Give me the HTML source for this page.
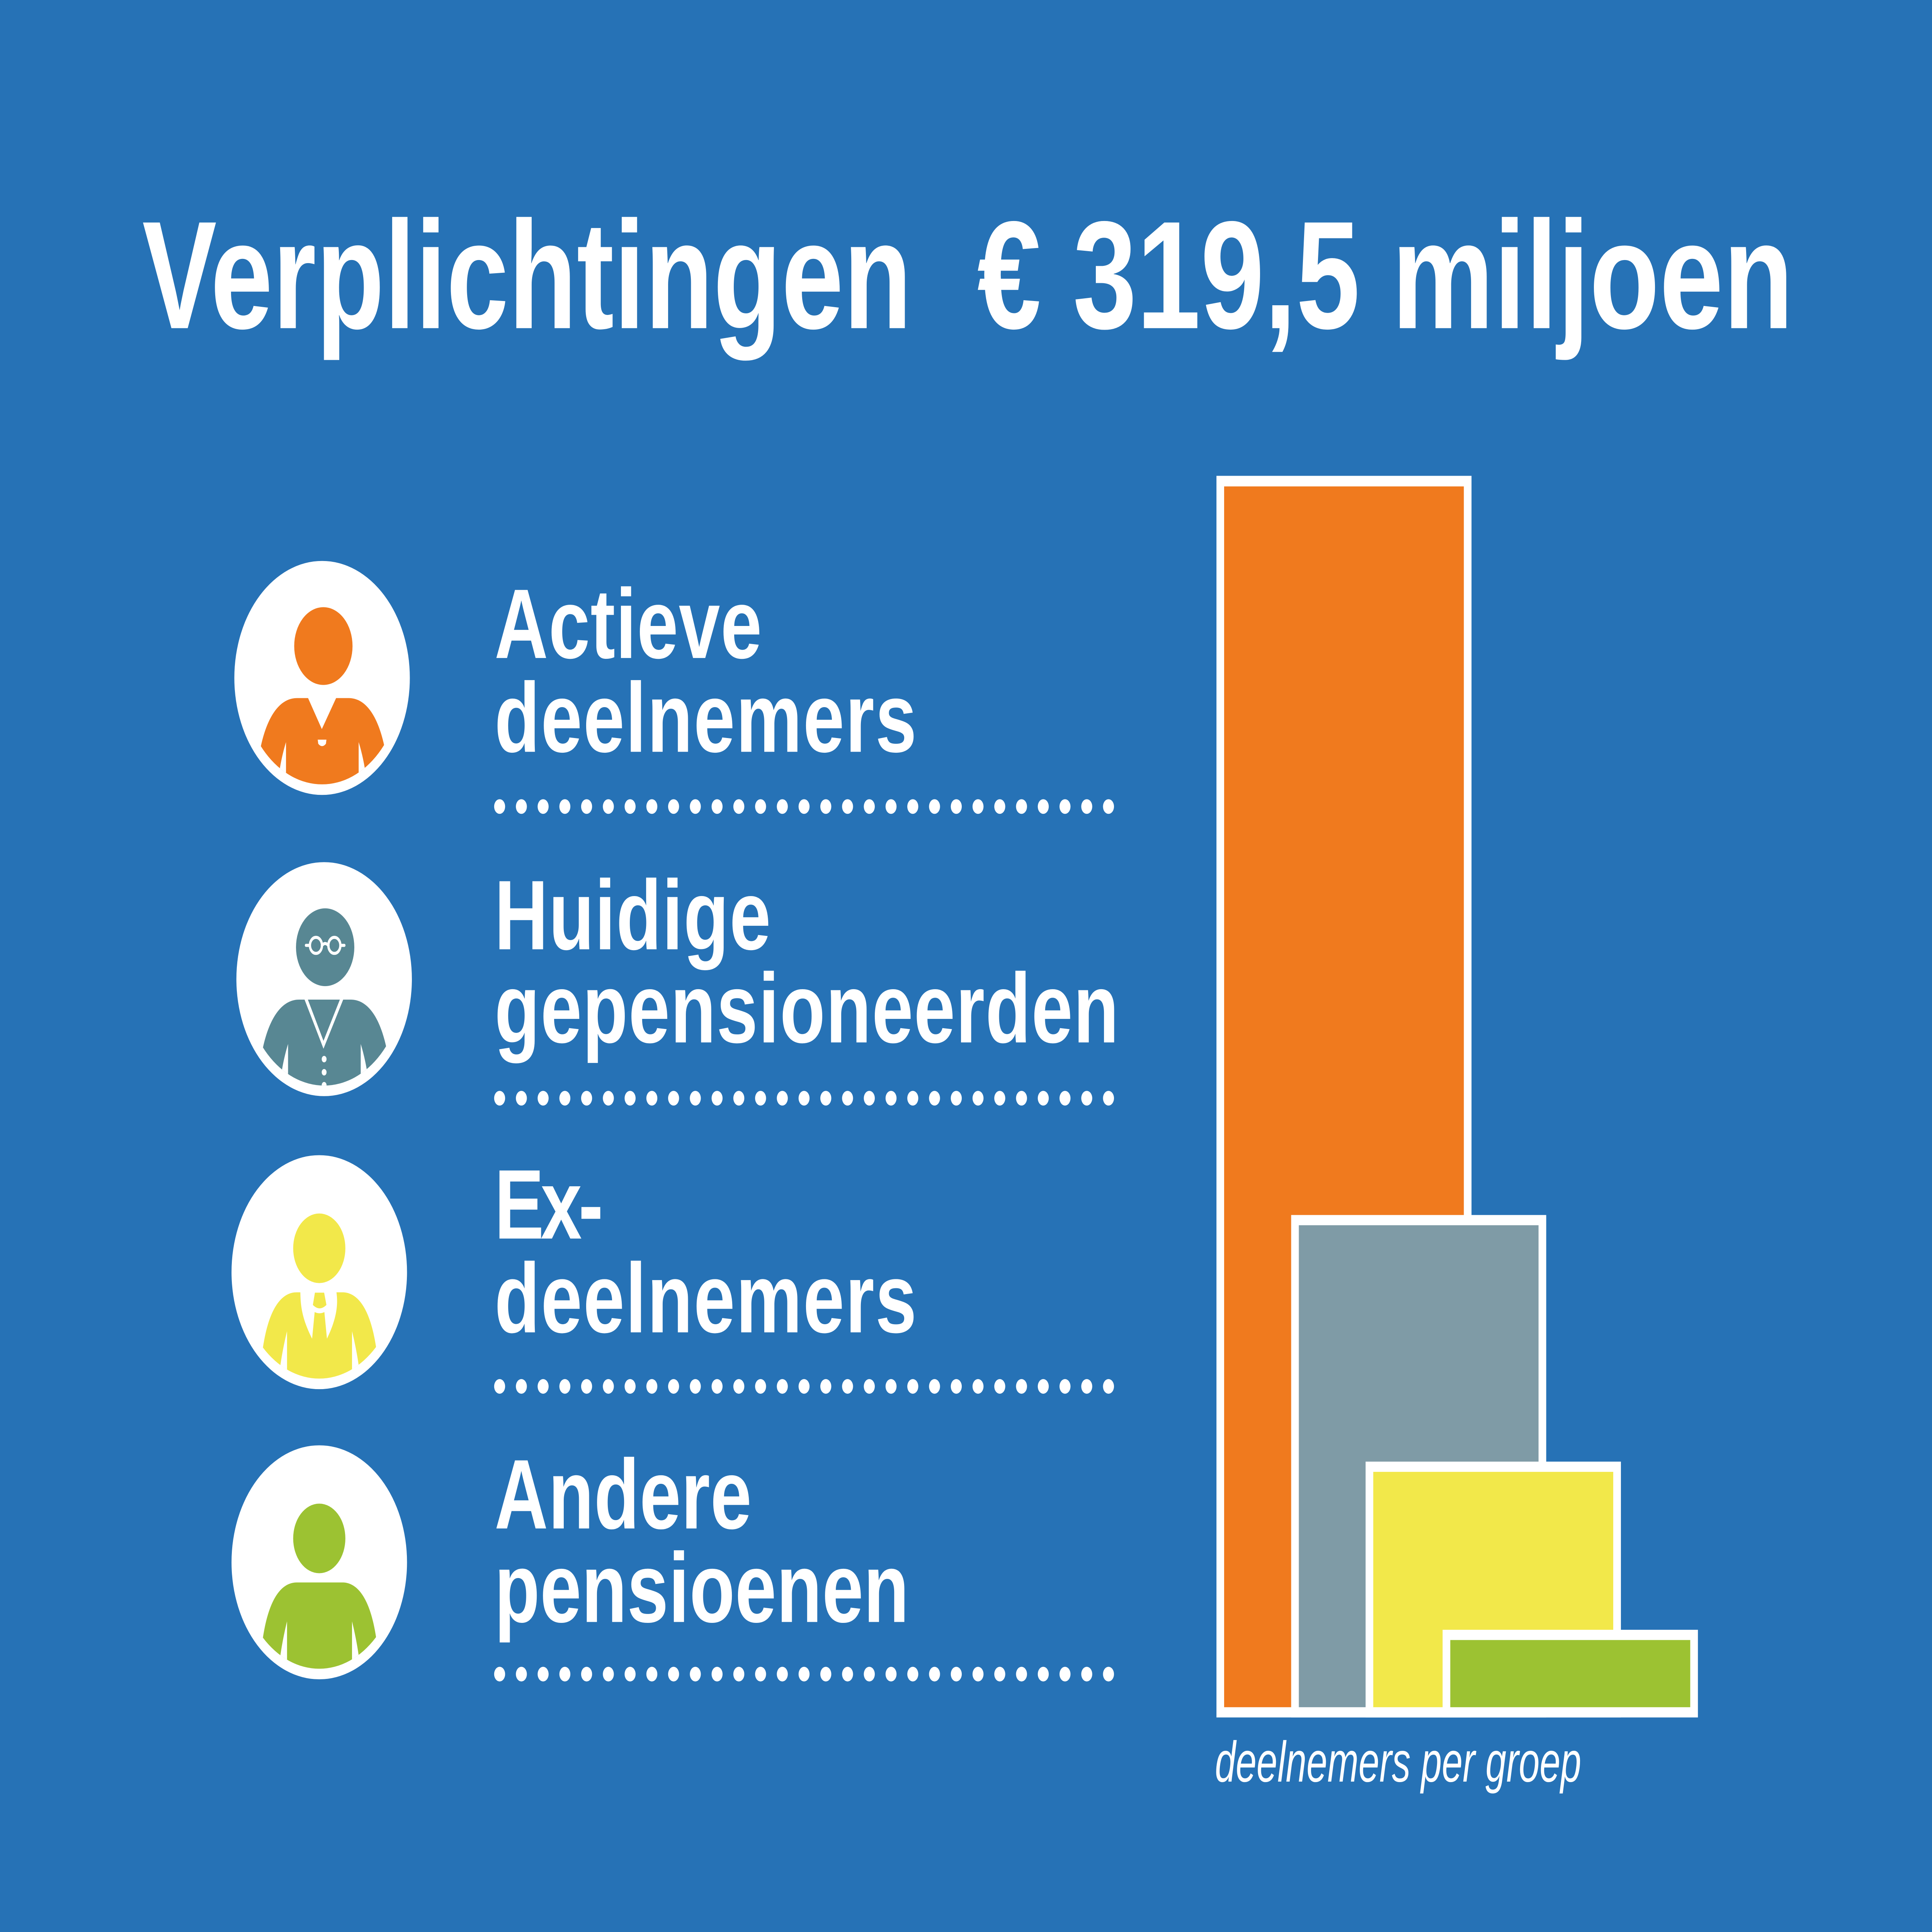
<!DOCTYPE html>
<html>
<head>
<meta charset="utf-8">
<style>
  html, body { margin: 0; padding: 0; background: #2672B6; width: 100%; height: 100%; overflow: hidden; }
  svg { display: block; position: absolute; left: 0; top: 0; width: 100vw; height: 100vh; }
</style>
</head>
<body>
<svg xmlns="http://www.w3.org/2000/svg" viewBox="0 0 7552 5664" preserveAspectRatio="none">
  <defs>
    <clipPath id="cA"><circle cx="0" cy="0" r="312"/></clipPath>
    <g id="dots" fill="#FFFFFF">
      <circle cx="1953" cy="0" r="21.5"/><circle cx="2038" cy="0" r="21.5"/><circle cx="2123" cy="0" r="21.5"/><circle cx="2208" cy="0" r="21.5"/><circle cx="2293" cy="0" r="21.5"/><circle cx="2378" cy="0" r="21.5"/><circle cx="2463" cy="0" r="21.5"/><circle cx="2548" cy="0" r="21.5"/><circle cx="2633" cy="0" r="21.5"/><circle cx="2718" cy="0" r="21.5"/><circle cx="2803" cy="0" r="21.5"/><circle cx="2888" cy="0" r="21.5"/><circle cx="2973" cy="0" r="21.5"/><circle cx="3058" cy="0" r="21.5"/><circle cx="3143" cy="0" r="21.5"/><circle cx="3228" cy="0" r="21.5"/><circle cx="3313" cy="0" r="21.5"/><circle cx="3398" cy="0" r="21.5"/><circle cx="3483" cy="0" r="21.5"/><circle cx="3568" cy="0" r="21.5"/><circle cx="3653" cy="0" r="21.5"/><circle cx="3738" cy="0" r="21.5"/><circle cx="3823" cy="0" r="21.5"/><circle cx="3908" cy="0" r="21.5"/><circle cx="3993" cy="0" r="21.5"/><circle cx="4078" cy="0" r="21.5"/><circle cx="4163" cy="0" r="21.5"/><circle cx="4248" cy="0" r="21.5"/><circle cx="4333" cy="0" r="21.5"/>
    </g>
  </defs>
  <rect x="0" y="0" width="7552" height="5664" fill="#2672B6"/>

  <!-- Title -->
  <g font-family="'Liberation Sans', Arial, sans-serif" font-weight="bold" font-size="450" fill="#FFFFFF">
    <text x="556" y="962" textLength="3008" lengthAdjust="spacingAndGlyphs">Verplichtingen</text>
    <text x="3820" y="962" textLength="3190" lengthAdjust="spacingAndGlyphs">€ 319,5 miljoen</text>
  </g>

  <!-- Row labels -->
  <g font-family="'Liberation Sans', Arial, sans-serif" font-weight="bold" font-size="290" fill="#FFFFFF">
    <text x="1933" y="1929" textLength="1045">Actieve</text>
    <text x="1933" y="2204" textLength="1650">deelnemers</text>
    <text x="1933" y="2783" textLength="1080">Huidige</text>
    <text x="1933" y="3056" textLength="2440">gepensioneerden</text>
    <text x="1933" y="3631" textLength="425">Ex-</text>
    <text x="1933" y="3906" textLength="1650">deelnemers</text>
    <text x="1933" y="4481" textLength="1005">Andere</text>
    <text x="1933" y="4755" textLength="1620">pensioenen</text>
  </g>

  <!-- Dotted lines -->
  <use href="#dots" transform="translate(0,2364.5)"/>
  <use href="#dots" transform="translate(0,3219.6)"/>
  <use href="#dots" transform="translate(0,4064.5)"/>
  <use href="#dots" transform="translate(0,4908)"/>

  <!-- Icon 1: Actieve deelnemers (orange) -->
  <g transform="translate(1259,1987.5)">
    <circle cx="0" cy="0" r="343" fill="#FFFFFF"/>
    <circle cx="5" cy="-93.5" r="114" fill="#F07A1E"/>
    <g clip-path="url(#cA)">
      <path d="M -98 59 L 104 59 C 179 59, 224 125, 246 210 L 250 420 L -250 420 L -242 210 C -220 125, -173 59, -98 59 Z" fill="#F07A1E"/>
      <path d="M -141 188 C -150 210, -160 240, -166 270 L -174 340 L -141 340 Z" fill="#FFFFFF"/>
      <path d="M 143 188 C 152 210, 162 240, 168 270 L 176 340 L 143 340 Z" fill="#FFFFFF"/>
      <path d="M -56 57 L -1 150 L 56 57 Z" fill="#FFFFFF"/>
      <path d="M -17 181 L 17 181 L 15 193 Q 0 207 -15 193 Z" fill="#FFFFFF"/>
    </g>
  </g>

  <!-- Icon 2: Huidige gepensioneerden (grey-teal) -->
  <g transform="translate(1267,2870.5)">
    <circle cx="0" cy="0" r="343" fill="#FFFFFF"/>
    <circle cx="4" cy="-93.5" r="114" fill="#588793"/>
    <g fill="none" stroke="#FFFFFF" stroke-width="9" stroke-linecap="round">
      <circle cx="-32" cy="-99" r="23.5"/>
      <circle cx="40" cy="-99" r="23.5"/>
      <path d="M -9 -98 Q 4 -111 17 -98"/>
      <path d="M -71 -99 L -56 -99"/>
      <path d="M 64 -99 L 79 -99"/>
    </g>
    <g clip-path="url(#cA)">
      <path d="M -98 60 L 104 60 C 179 60, 224 126, 246 211 L 250 420 L -250 420 L -242 211 C -220 126, -173 60, -98 60 Z" fill="#588793"/>
      <path d="M -141 190 C -150 212, -160 242, -166 272 L -174 340 L -141 340 Z" fill="#FFFFFF"/>
      <path d="M 143 190 C 152 212, 162 242, 168 272 L 176 340 L 143 340 Z" fill="#FFFFFF"/>
      <path d="M -77 59 L -2.5 204 L 75 59 L 62 59 L -2.5 181 L -64 59 Z" fill="#FFFFFF"/>
      <circle cx="0" cy="234.5" r="9.5" fill="#FFFFFF"/>
      <circle cx="0" cy="273" r="9.5" fill="#FFFFFF"/>
      <circle cx="0" cy="311" r="9.5" fill="#FFFFFF"/>
    </g>
  </g>

  <!-- Icon 3: Ex-deelnemers (yellow, tie) -->
  <g transform="translate(1248,3729.6)">
    <circle cx="0" cy="0" r="343" fill="#FFFFFF"/>
    <circle cx="0" cy="-70" r="102" fill="#F2E84A"/>
    <g clip-path="url(#cA)">
      <path d="M -88 59 L 90 59 C 152 59, 202 110, 224 230 L 244 420 L -244 420 L -222 230 C -200 110, -150 59, -88 59 Z" fill="#F2E84A"/>
      <path d="M -126 173 C -135 200, -146 240, -152 273 L -160 340 L -126 340 Z" fill="#FFFFFF"/>
      <path d="M 128 173 C 137 200, 148 240, 154 273 L 162 340 L 128 340 Z" fill="#FFFFFF"/>
      <path d="M -74 58 C -73 90, -72 130, -28 195 L -18 117 Q 1 124 20 117 L 30 195 C 72 130, 73 90, 67 58 Z" fill="#FFFFFF"/>
      <path d="M -17 60 L 19 60 L 28 96 Q 1 116 -25 96 Z" fill="#F2E84A"/>
    </g>
  </g>

  <!-- Icon 4: Andere pensioenen (green) -->
  <g transform="translate(1248,4580.2)">
    <circle cx="0" cy="0" r="343" fill="#FFFFFF"/>
    <circle cx="0" cy="-70" r="102" fill="#9CC232"/>
    <g clip-path="url(#cA)">
      <path d="M -88 59 L 90 59 C 152 59, 202 110, 224 230 L 244 420 L -244 420 L -222 230 C -200 110, -150 59, -88 59 Z" fill="#9CC232"/>
      <path d="M -126 173 C -135 200, -146 240, -152 273 L -160 340 L -126 340 Z" fill="#FFFFFF"/>
      <path d="M 128 173 C 137 200, 148 240, 154 273 L 162 340 L 128 340 Z" fill="#FFFFFF"/>
    </g>
  </g>

  <!-- Stacked bars -->
  <rect x="4755" y="1395" width="997" height="3640" fill="#FFFFFF"/>
  <rect x="4785" y="1426" width="937" height="3579" fill="#F07A1E"/>

  <rect x="5047" y="3562" width="997" height="1473" fill="#FFFFFF"/>
  <rect x="5077" y="3592" width="937" height="1413" fill="#7F9BA6"/>

  <rect x="5338" y="4285" width="998" height="750" fill="#FFFFFF"/>
  <rect x="5368" y="4315" width="938" height="690" fill="#F2E84A"/>

  <rect x="5639" y="4778" width="998" height="257" fill="#FFFFFF"/>
  <rect x="5669" y="4808" width="938" height="197" fill="#9CC232"/>

  <!-- Caption -->
  <text x="4749" y="5223" font-family="'Liberation Sans', Arial, sans-serif" font-style="italic" font-size="168" fill="#FFFFFF" textLength="1432" lengthAdjust="spacingAndGlyphs">deelnemers per groep</text>
</svg>
</body>
</html>
